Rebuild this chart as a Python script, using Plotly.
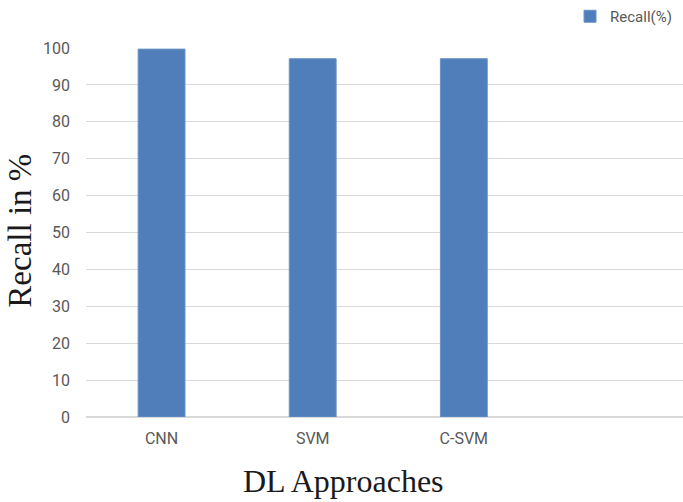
import plotly.graph_objects as go

# Recall of each deep-learning approach
approaches = ["CNN", "SVM", "C-SVM"]
recall = [99.7, 97.1, 97.1]
y_ticks = list(range(0, 101, 10))

BAR_BLUE = "#4F7EBB"
TICK_GRAY = "#595959"
GRID_GRAY = "#D9D9D9"
SERIF = "Liberation Serif, Times New Roman, serif"

fig = go.Figure(
    go.Bar(
        x=approaches,
        y=recall,
        name="Recall(%)",
        marker=dict(color=BAR_BLUE, line=dict(color="#6A93C8", width=1)),
        showlegend=True,
    )
)

fig.update_layout(
    width=683,
    height=502,
    margin=dict(l=86, r=0, t=47, b=85),
    paper_bgcolor="white",
    plot_bgcolor="white",
    bargap=0.69,
    font=dict(family="Roboto, sans-serif", color=TICK_GRAY, size=16),
    legend=dict(
        x=0.99, xanchor="right", y=1.085, yanchor="middle",
        orientation="h",
        font=dict(size=15, color=TICK_GRAY),
        itemwidth=30,
        bgcolor="rgba(0,0,0,0)",
    ),
    xaxis=dict(
        type="category",
        range=[-0.5, 3.45],
        showgrid=False,
        showline=False,
        ticks="",
        ticklabelstandoff=10,
        tickfont=dict(size=16, color=TICK_GRAY),
    ),
    yaxis=dict(
        range=[0, 100],
        tickvals=y_ticks,
        showgrid=True,
        gridcolor=GRID_GRAY,
        gridwidth=1,
        zeroline=True,
        zerolinecolor=GRID_GRAY,
        zerolinewidth=1.5,
        showline=False,
        ticks="",
        ticklabelstandoff=15,
        tickfont=dict(size=16, color=TICK_GRAY),
    ),
    annotations=[
        dict(
            text="DL Approaches",
            xref="paper", yref="paper",
            x=(343 - 86) / 597, y=-0.173,
            xanchor="center", yanchor="middle",
            showarrow=False,
            font=dict(family=SERIF, size=32, color="#1A1A1A"),
        ),
        dict(
            text="Recall in %",
            xref="paper", yref="paper",
            x=(20 - 86) / 597, y=0.505,
            xanchor="center", yanchor="middle",
            textangle=-90,
            showarrow=False,
            font=dict(family=SERIF, size=33, color="#1A1A1A"),
        ),
    ],
)

fig.write_html("out.html")
